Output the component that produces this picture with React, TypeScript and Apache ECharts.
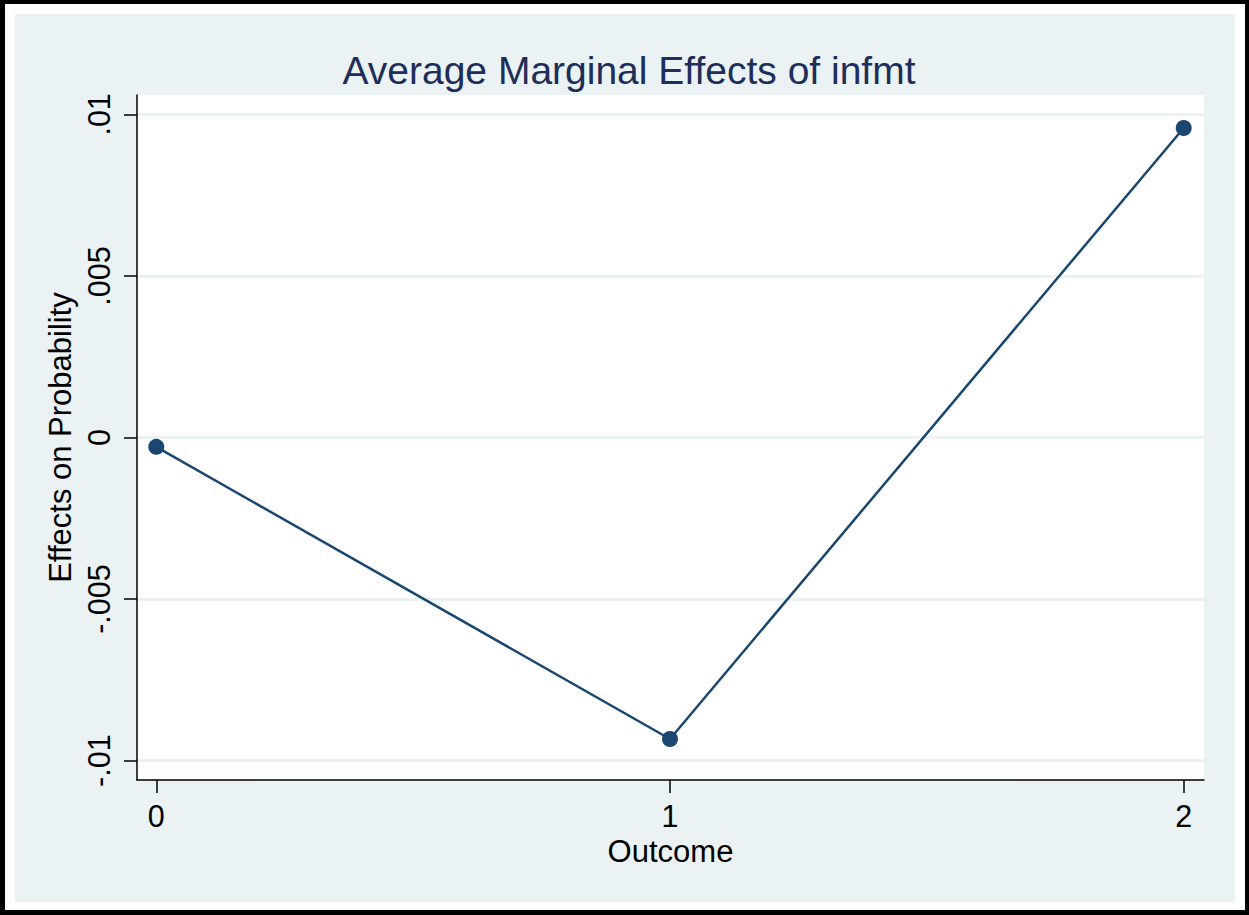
import React, { useEffect, useRef } from "react";
import * as echarts from "echarts";

const outcomes: number[] = [0, 1, 2];
const effects: number[] = [-0.00029, -0.00933, 0.00958];
const yTicks: number[] = [-0.01, -0.005, 0, 0.005, 0.01];
const xTicks: number[] = [0, 1, 2];

const FONT = "'Liberation Sans', Arial, Helvetica, sans-serif";
const NAVY = "#1a476f";
const BG = "#eaf2f3";

function fmt(v: number): string {
  if (Math.abs(v) < 1e-12) return "0";
  const s = String(Number(v.toFixed(4)));
  return s.replace(/^(-?)0\./, "$1.");
}

export default function App() {
  const ref = useRef<HTMLDivElement>(null);
  useEffect(() => {
    if (!ref.current) return;
    const chart = echarts.init(ref.current, null, { renderer: "svg" });
    chart.setOption({
      animation: false,
      backgroundColor: "transparent",
      title: {
        text: "Average Marginal Effects of infmt",
        left: 629,
        textAlign: "center",
        top: 50,
        padding: 0,
        textStyle: {
          fontFamily: FONT,
          fontSize: 39,
          fontWeight: "normal",
          color: "#1f2d5a",
          lineHeight: 40,
        },
      },
      grid: {
        left: 137,
        right: 45,
        top: 95,
        bottom: 135,
        show: true,
        backgroundColor: "#ffffff",
        borderWidth: 0,
      },
      xAxis: {
        type: "value",
        min: -0.0375,
        max: 2.0395,
        name: "Outcome",
        nameLocation: "middle",
        nameGap: 53,
        nameTextStyle: { fontFamily: FONT, fontSize: 31, color: "#000", lineHeight: 30 },
        axisLine: { show: true, onZero: false, lineStyle: { color: "#000", width: 1.5 } },
        axisTick: { show: true, length: 13, customValues: xTicks, lineStyle: { color: "#000", width: 1.5 } },
        axisLabel: {
          customValues: xTicks,
          margin: 21,
          fontFamily: FONT,
          fontSize: 30.5,
          color: "#000",
          lineHeight: 30,
          formatter: (v: number) => fmt(v),
        },
        splitLine: { show: false },
      },
      yAxis: {
        type: "value",
        min: -0.0106,
        max: 0.0106,
        name: "Effects on Probability",
        nameLocation: "middle",
        nameGap: 50,
        nameTextStyle: { fontFamily: FONT, fontSize: 31, color: "#000", lineHeight: 30 },
        axisLine: { show: true, onZero: false, lineStyle: { color: "#000", width: 1.5 } },
        axisTick: { show: true, length: 13, customValues: yTicks, lineStyle: { color: "#000", width: 1.5 } },
        axisLabel: {
          customValues: yTicks,
          rotate: 90,
          margin: 23,
          fontFamily: FONT,
          fontSize: 30.5,
          color: "#000",
          lineHeight: 30,
          formatter: (v: number) => fmt(v),
        },
        splitLine: { show: true, lineStyle: { color: BG, width: 3 } },
      },
      series: [
        {
          type: "line",
          data: outcomes.map((x, i) => [x, effects[i]]),
          symbol: "circle",
          symbolSize: 16,
          lineStyle: { color: NAVY, width: 2.5 },
          itemStyle: { color: NAVY },
          z: 5,
        },
      ],
    });
    return () => chart.dispose();
  }, []);

  return (
    <div style={{ position: "absolute", left: 0, top: 0, width: 1249, height: 915, background: "#fff" }}>
      <div
        style={{
          position: "absolute",
          left: 0,
          top: 0,
          width: 1249,
          height: 915,
          boxSizing: "border-box",
          borderTop: "4px solid #000",
          borderLeft: "5px solid #000",
          borderRight: "4px solid #000",
          borderBottom: "5px solid #000",
        }}
      />
      <div style={{ position: "absolute", left: 15, top: 14, width: 1220, height: 888, background: BG }} />
      <div ref={ref} style={{ position: "absolute", left: 0, top: 0, width: 1249, height: 915 }} />
    </div>
  );
}
